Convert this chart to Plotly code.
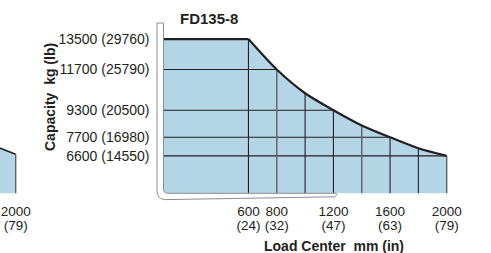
import plotly.graph_objects as go

# ---------------- data ----------------
model = "FD135-8"
load_center = [600, 800, 1000, 1200, 1400, 1600, 1800, 2000]          # mm
capacity = [13500, 11700, 10300, 9300, 8400, 7700, 7050, 6600]       # kg
tick_mm = [600, 800, 1200, 1600, 2000]
tick_in = ["(24)", "(32)", "(47)", "(63)", "(79)"]
tick_kg = [13500, 11700, 9300, 7700, 6600]
tick_lb = ["(29760)", "(25790)", "(20500)", "(16980)", "(14550)"]
# neighbouring (cut-off) chart on the left
prev_x = [1800, 2000]
prev_y = [7350, 6700]
prev_tick_mm = [2000]
prev_tick_in = ["(79)"]

# ---------------- geometry (pixels) ----------------
W, H = 491, 253
X0_PX, X2000_PX = 163.5, 446.7
PXMM = (X2000_PX - X0_PX) / 2000.0
Y_TOP_PX, Y_BOT_PX = 20.0, 193.3
Y_RANGE = [4391, 14627]

def px(x):
    return x / W

def py(y):
    return 1 - y / H

FILL = "#b4d5e5"
INK = "#231f20"
GRAY = "#5f6163"
FONT = "Liberation Sans, Arial, Helvetica, sans-serif"

fig = go.Figure()

# main chart fill: flat part + curve
fig.add_trace(go.Scatter(x=[0, load_center[0]], y=[capacity[0], capacity[0]],
                         mode="lines", line=dict(color=INK, width=0),
                         fill="tozeroy", fillcolor=FILL, hoverinfo="skip"))
fig.add_trace(go.Scatter(x=load_center, y=capacity, mode="lines",
                         line=dict(color=INK, width=0, shape="spline", smoothing=0.8),
                         fill="tozeroy", fillcolor=FILL, hoverinfo="skip"))

# horizontal grid lines from 0 up to where the level meets the curve
hx, hy = [], []
for xm, kg in zip(tick_mm[1:], tick_kg[1:]):
    hx += [0, xm, None]
    hy += [kg, kg, None]
fig.add_trace(go.Scatter(x=hx, y=hy, mode="lines", line=dict(color=INK, width=1.1),
                         hoverinfo="skip"))

# vertical grid lines from the bottom up to the curve
dark_x, dark_y, light_x, light_y = [], [], [], []
for xm, kg in zip(load_center, capacity):
    if xm in (800, 1400, 2000):
        light_x += [xm, xm, None]
        light_y += [0, kg, None]
    else:
        dark_x += [xm, xm, None]
        dark_y += [0, kg, None]
fig.add_trace(go.Scatter(x=dark_x, y=dark_y, mode="lines",
                         line=dict(color=INK, width=1.1), hoverinfo="skip"))
fig.add_trace(go.Scatter(x=light_x, y=light_y, mode="lines",
                         line=dict(color=GRAY, width=1.4), hoverinfo="skip"))

# capacity curve on top
fig.add_trace(go.Scatter(x=[0, load_center[0]], y=[capacity[0], capacity[0]],
                         mode="lines", line=dict(color=INK, width=2.2), hoverinfo="skip"))
fig.add_trace(go.Scatter(x=load_center, y=capacity, mode="lines",
                         line=dict(color=INK, width=2.2, shape="spline", smoothing=0.8),
                         hoverinfo="skip"))

# neighbouring chart (cut off at left)
fig.add_trace(go.Scatter(x=prev_x, y=prev_y, mode="lines", xaxis="x2",
                         line=dict(color=INK, width=1.6), fill="tozeroy",
                         fillcolor=FILL, hoverinfo="skip"))
fig.add_trace(go.Scatter(x=[prev_x[-1], prev_x[-1]], y=[0, prev_y[-1]], mode="lines",
                         xaxis="x2", line=dict(color=GRAY, width=1.4), hoverinfo="skip"))

# ---------------- axes ----------------
main_dom = [px(150), 1.0]
main_rng = [(150 - X0_PX) / PXMM, (W - X0_PX) / PXMM]
prev_dom = [0.0, px(60)]
prev_rng = [2000 - 15.7 / PXMM, 2000 - 15.7 / PXMM + 60 / PXMM]

tickfont = dict(family=FONT, size=13.5, color=INK)
common_x = dict(showgrid=False, zeroline=False, showline=False, ticks="",
                tickfont=tickfont, fixedrange=True)

fig.update_layout(
    width=W, height=H, margin=dict(l=0, r=0, t=0, b=0),
    paper_bgcolor="white", plot_bgcolor="rgba(0,0,0,0)", showlegend=False,
    xaxis=dict(domain=main_dom, range=main_rng, anchor="y", tickmode="array",
               tickvals=tick_mm, ticktext=[str(v) for v in tick_mm],
               ticklabelstandoff=8, **common_x),
    xaxis3=dict(overlaying="x", range=main_rng, anchor="y", side="bottom",
                tickmode="array", tickvals=tick_mm, ticktext=tick_in,
                ticklabelstandoff=22, **common_x),
    xaxis2=dict(domain=prev_dom, range=prev_rng, anchor="y", tickmode="array",
                tickvals=prev_tick_mm, ticktext=[str(v) for v in prev_tick_mm],
                ticklabelstandoff=8, **common_x),
    xaxis4=dict(overlaying="x2", range=prev_rng, anchor="y", side="bottom",
                tickmode="array", tickvals=prev_tick_mm, ticktext=prev_tick_in,
                ticklabelstandoff=22, **common_x),
    yaxis=dict(domain=[py(Y_BOT_PX), py(Y_TOP_PX)], range=Y_RANGE,
               anchor="free", position=px(X0_PX), tickmode="array",
               tickvals=tick_kg,
               ticktext=[f"{k} {l}" for k, l in zip(tick_kg, tick_lb)],
               tickfont=dict(family=FONT, size=14, color=INK),
               showgrid=False, zeroline=False, showline=False, ticks="",
               ticklabelstandoff=14, fixedrange=True),
)

# dummy traces so that the overlay axes are shown
fig.add_trace(go.Scatter(x=[None], y=[None], xaxis="x3", hoverinfo="skip"))
fig.add_trace(go.Scatter(x=[None], y=[None], xaxis="x4", hoverinfo="skip"))

# fork-shaped frame (decoration)
fork = (f"M {px(157)},{py(23)} L {px(163.5)},{py(23)} L {px(163.5)},{py(189)} "
        f"Q {px(163.5)},{py(193.3)} {px(168)},{py(193.3)} L {px(336)},{py(193.3)} "
        f"L {px(336.8)},{py(194.6)} L {px(335)},{py(196.8)} L {px(166)},{py(199.6)} "
        f"Q {px(157)},{py(199.6)} {px(157)},{py(191)} Z")
fig.add_shape(type="path", path=fork, xref="paper", yref="paper",
              line=dict(color="#8a8c8e", width=1), fillcolor="white", layer="above")

ann = dict(xref="paper", yref="paper", showarrow=False, xanchor="center", yanchor="middle")
fig.add_annotation(x=px(209), y=py(18), text=f"<b>{model}</b>",
                   font=dict(family=FONT, size=15, color=INK), **ann)
fig.add_annotation(x=px(334), y=py(246), text="<b>Load Center\u00a0 mm (in)</b>",
                   font=dict(family=FONT, size=14, color=INK), **ann)
fig.add_annotation(x=px(50), y=py(97), text="<b>Capacity\u00a0 kg (lb)</b>", textangle=-90,
                   font=dict(family=FONT, size=14, color=INK), **ann)

fig.write_html("out.html", config={"displayModeBar": False, "staticPlot": True},
               post_script="document.body.style.margin='0';document.body.style.overflow='hidden';")
